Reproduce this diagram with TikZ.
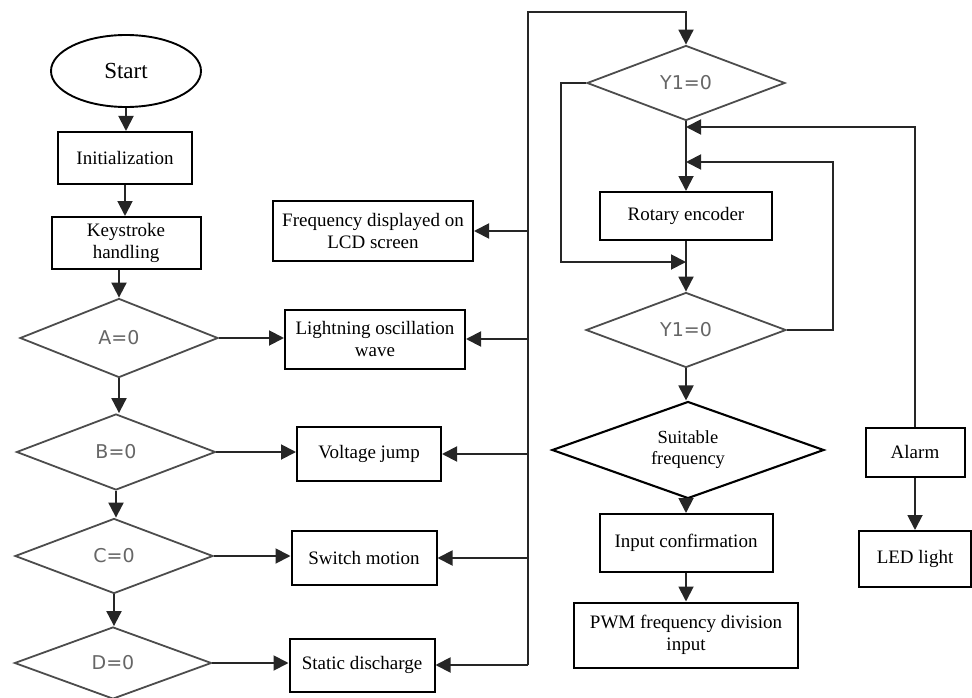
\documentclass[tikz,border=0pt]{standalone}
\usepackage{fontspec}
\setmainfont{Liberation Serif}
\newfontfamily\dejavu{DejaVu Sans}
\usetikzlibrary{shapes.geometric,arrows.meta}
\begin{document}
\begin{tikzpicture}[x=1pt,y=-1pt,
  box/.style={draw,line width=2pt,inner sep=0pt,align=center,font=\fontsize{19}{22}\selectfont},
  dia/.style={diamond,draw=black!70,line width=1.8pt,inner sep=0pt,font=\dejavu\fontsize{19}{21}\selectfont,text=black!60},
  arr/.style={line width=1.9pt,draw=black!85,-{Triangle[length=15pt,width=15pt]}},
  ln/.style={line width=1.9pt}]
\useasboundingbox (0,0) rectangle (972,698);
% left column
\node[ellipse,draw,line width=1.9pt,minimum width=150pt,minimum height=72pt,inner sep=0pt,font=\fontsize{23}{25}\selectfont] (start) at (126,71) {Start};
\node[box,minimum width=134pt,minimum height=52pt] (init) at (125,158) {Initialization};
\node[box,minimum width=149pt,minimum height=52pt] (kh) at (126,243) {Keystroke\\handling};
\node[dia,minimum width=198pt,minimum height=79pt] (A) at (119,338) {A=0};
\node[dia,minimum width=199pt,minimum height=76pt] (B) at (116,452) {B=0};
\node[dia,minimum width=198pt,minimum height=75pt] (C) at (114,556) {C=0};
\node[dia,minimum width=197pt,minimum height=72pt] (D) at (113,663) {D=0};
% output boxes
\node[box,minimum width=200pt,minimum height=60pt] (lcd) at (373,231) {Frequency displayed on\\LCD screen};
\node[box,minimum width=180pt,minimum height=59pt] (lig) at (375,339) {Lightning oscillation\\wave};
\node[box,minimum width=144pt,minimum height=54pt] (vj) at (369,454) {Voltage jump};
\node[box,minimum width=145pt,minimum height=54pt] (sm) at (364,558) {Switch motion};
\node[box,minimum width=145pt,minimum height=53pt] (sd) at (362,665) {Static discharge};
% middle column
\node[dia,minimum width=198pt,minimum height=75pt] (Ya) at (686,83) {Y1=0};
\node[box,minimum width=172pt,minimum height=48pt] (rot) at (686,216) {Rotary encoder};
\node[dia,minimum width=200pt,minimum height=75pt] (Yb) at (686,330) {Y1=0};
\node[diamond,draw,line width=2.1pt,aspect=2.8,minimum width=272pt,minimum height=97pt,inner sep=0pt,align=center,font=\fontsize{18.5}{21}\selectfont] (sf) at (688,450) {Suitable\\frequency};
\node[box,minimum width=173pt,minimum height=58pt] (ic) at (686,543) {Input confirmation};
\node[box,minimum width=224pt,minimum height=65pt] (pwm) at (686,635) {PWM frequency division\\input};
% right column
\node[box,minimum width=99pt,minimum height=49pt] (al) at (915,452) {Alarm};
\node[box,minimum width=112pt,minimum height=56pt] (led) at (915,559) {LED light};
% coordinates
\coordinate (bb) at (528,665);
\coordinate (bt) at (528,12);
\coordinate (jL) at (686,262);
\coordinate (j1) at (686,127);
\coordinate (j2) at (686,162);
% left column arrows
\draw[arr] (start.south) -- (start.south |- init.north);
\draw[arr] (init.south) -- (init.south |- kh.north);
\draw[arr] (A.north |- kh.south) -- (A.north);
\draw[arr] (A.south) -- (A.south |- B.north);
\draw[arr] (B.south) -- (B.south |- C.north);
\draw[arr] (C.south) -- (C.south |- D.north);
\draw[arr] (A.east) -- (A.east -| lig.west);
\draw[arr] (B.east) -- (B.east -| vj.west);
\draw[arr] (C.east) -- (C.east -| sm.west);
\draw[arr] (D.east) -- (D.east -| sd.west);
% bus
\draw[arr] (bb) -- (bt) -| (Ya.north);
\foreach \n in {lcd,lig,vj,sm,sd} \draw[arr] (\n.east -| bb) -- (\n.east);
% middle loops
\draw[arr] (Ya.west) -- ++(-25,0) |- (jL);
\draw[arr] (Ya.south) -- (rot.north);
\draw[arr] (rot.south) -- (Yb.north);
\draw[arr] (Yb.east) -- ++(46,0) |- (j2);
\draw[arr] (al.north) |- (j1);
\draw[arr] (Yb.south) -- (Yb.south |- sf.north);
\draw[arr] (ic.north |- sf.south) -- (ic.north);
\draw[arr] (ic.south) -- (pwm.north);
\draw[arr] (al.south) -- (led.north);
\end{tikzpicture}
\end{document}
